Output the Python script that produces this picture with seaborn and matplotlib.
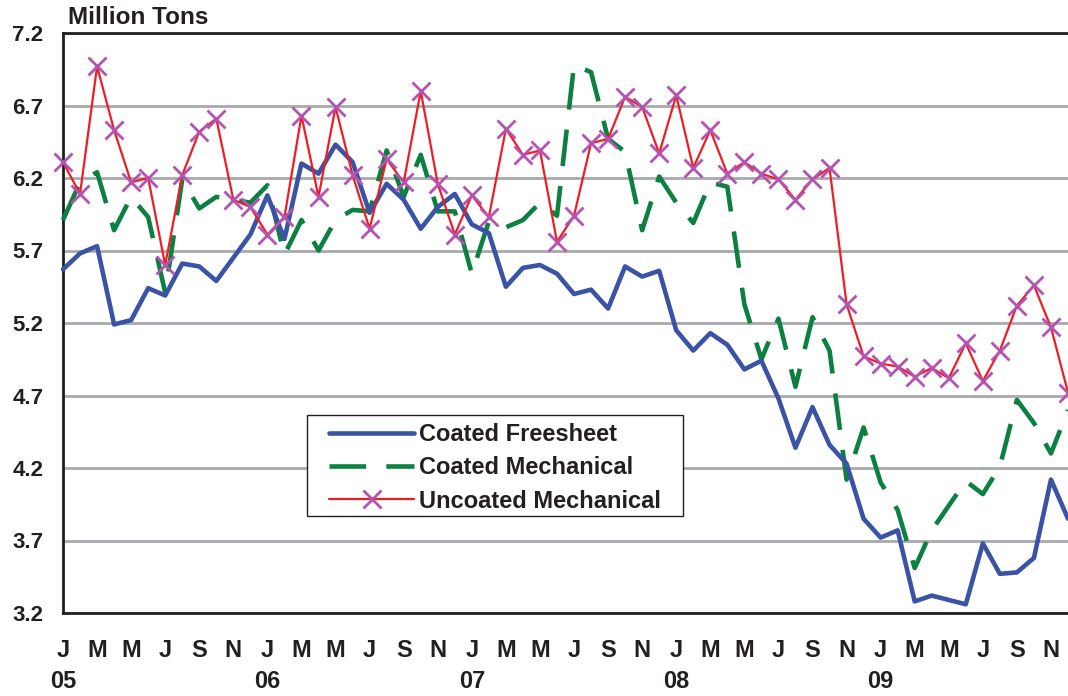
import matplotlib
matplotlib.use("Agg")
import matplotlib.pyplot as plt
from matplotlib.patches import Rectangle
import seaborn as sns
import pandas as pd

# monthly, Jan 2005 .. Dec 2009
months = list(range(60))
month_letters = ["J", "F", "M", "A", "M", "J", "J", "A", "S", "O", "N", "D"]
years = ["05", "06", "07", "08", "09"]

coated_freesheet = [5.57, 5.68, 5.73, 5.19, 5.22, 5.44, 5.39, 5.61, 5.59, 5.49,
                    5.65, 5.81, 6.08, 5.78, 6.30, 6.23, 6.43, 6.31, 5.96, 6.16,
                    6.05, 5.85, 6.00, 6.09, 5.88, 5.82, 5.45, 5.58, 5.60, 5.54,
                    5.40, 5.43, 5.30, 5.59, 5.52, 5.56, 5.15, 5.01, 5.13, 5.05,
                    4.88, 4.94, 4.68, 4.34, 4.62, 4.36, 4.23, 3.85, 3.72, 3.77,
                    3.28, 3.32, 3.29, 3.26, 3.68, 3.47, 3.48, 3.58, 4.12, 3.85]

coated_mechanical = [5.91, 6.17, 6.24, 5.84, 6.07, 5.93, 5.41, 6.19, 5.99, 6.07,
                     6.05, 6.03, 6.15, 5.67, 5.91, 5.70, 5.91, 5.98, 5.97, 6.39,
                     6.07, 6.36, 5.97, 5.97, 5.54, 5.90, 5.86, 5.91, 6.03, 5.94,
                     6.98, 6.93, 6.47, 6.38, 5.84, 6.21, 6.03, 5.89, 6.17, 6.14,
                     5.33, 4.95, 5.23, 4.76, 5.24, 5.01, 4.12, 4.48, 4.10, 3.91,
                     3.51, 3.77, 3.94, 4.11, 4.02, 4.21, 4.67, 4.51, 4.30, 4.60]

uncoated_mechanical = [6.31, 6.09, 6.97, 6.53, 6.17, 6.20, 5.60, 6.22, 6.52, 6.61,
                       6.05, 6.00, 5.81, 5.93, 6.63, 6.07, 6.69, 6.22, 5.85, 6.33,
                       6.17, 6.80, 6.16, 5.81, 6.08, 5.93, 6.54, 6.36, 6.39, 5.76,
                       5.94, 6.44, 6.47, 6.76, 6.69, 6.37, 6.77, 6.27, 6.53, 6.23,
                       6.31, 6.23, 6.19, 6.05, 6.19, 6.27, 5.33, 4.97, 4.92, 4.90,
                       4.83, 4.89, 4.82, 5.06, 4.80, 5.01, 5.32, 5.46, 5.17, 4.72]

y_ticks = [3.2, 3.7, 4.2, 4.7, 5.2, 5.7, 6.2, 6.7, 7.2]

sns.set_style("white")
plt.rcParams["font.family"] = ["Liberation Sans", "DejaVu Sans"]
plt.rcParams["font.weight"] = "bold"
dark = "#231F20"

df = pd.DataFrame({
    "month": months,
    "Coated Freesheet": coated_freesheet,
    "Coated Mechanical": coated_mechanical,
    "Uncoated Mechanical": uncoated_mechanical,
})

fig = plt.figure(figsize=(10.68, 6.96), dpi=100)
ax = fig.add_axes([63 / 1068, 83 / 696, 1005 / 1068, 580 / 696])

sns.lineplot(data=df, x="month", y="Coated Mechanical", ax=ax, color="#0B8040",
             lw=3.3, linestyle=(0, (8.0, 4.4)), label="Coated Mechanical",
             clip_on=False, zorder=3)
sns.lineplot(data=df, x="month", y="Coated Freesheet", ax=ax, color="#3A53A4",
             lw=3.3, label="Coated Freesheet", clip_on=False, zorder=4)
sns.lineplot(data=df, x="month", y="Uncoated Mechanical", ax=ax, color="#F01C24",
             lw=1.6, marker="x", markersize=12.5, markeredgewidth=2,
             markeredgecolor="#B652B2", label="Uncoated Mechanical",
             clip_on=False, zorder=5)

ax.set_xlim(0, 58.69)
ax.set_ylim(3.2, 7.2)
ax.set_yticks(y_ticks)
ax.set_yticklabels([f"{v:.1f}" for v in y_ticks], fontsize=16, fontweight="bold", color=dark)
ax.set_xticks(months)
ax.set_xticklabels([month_letters[m % 12] if m % 2 == 0 else "" for m in months],
                   fontsize=17, fontweight="bold", color=dark)
for k, yr in enumerate(years):
    ax.text(k * 12, -0.1175, yr, transform=ax.get_xaxis_transform(),
            ha="center", va="center", fontsize=17, fontweight="bold", color=dark)

ax.tick_params(axis="x", direction="out", length=7, width=1.2, color="#555555", pad=12)
ax.tick_params(axis="y", direction="out", length=6, width=1.4, color=dark, pad=8)

ax.set_xlabel("")
ax.set_ylabel("")
ax.yaxis.grid(True, color="#A7A9AC", lw=2)
ax.xaxis.grid(False)
ax.set_axisbelow(True)

for side in ["left", "bottom", "top"]:
    ax.spines[side].set_color(dark)
    ax.spines[side].set_linewidth(2)
    ax.spines[side].set_visible(True)
ax.spines["right"].set_visible(False)

fig.text(68 / 1068, 1 - 17 / 696, "Million Tons", ha="left", va="center",
         fontsize=17.5, fontweight="bold", color=dark)

# legend box drawn separately so the padding matches the original
ax.add_patch(Rectangle((0.2428, 0.1672), 0.3741, 0.1741, transform=ax.transAxes,
                       facecolor="white", edgecolor=dark, lw=1.0, zorder=7, clip_on=False))

handles, labels = ax.get_legend_handles_labels()
order = [1, 0, 2]
leg = ax.legend([handles[i] for i in order], [labels[i] for i in order],
                loc="center left", bbox_to_anchor=(0.2647, 0.2500), borderaxespad=0,
                borderpad=0, fontsize=17, frameon=False, handlelength=3.6,
                handletextpad=0.22, labelspacing=0.43)
leg.set_zorder(8)
for t in leg.get_texts():
    t.set_fontweight("bold")
    t.set_color(dark)

fig.savefig("out.png", dpi=100)
plt.close(fig)
